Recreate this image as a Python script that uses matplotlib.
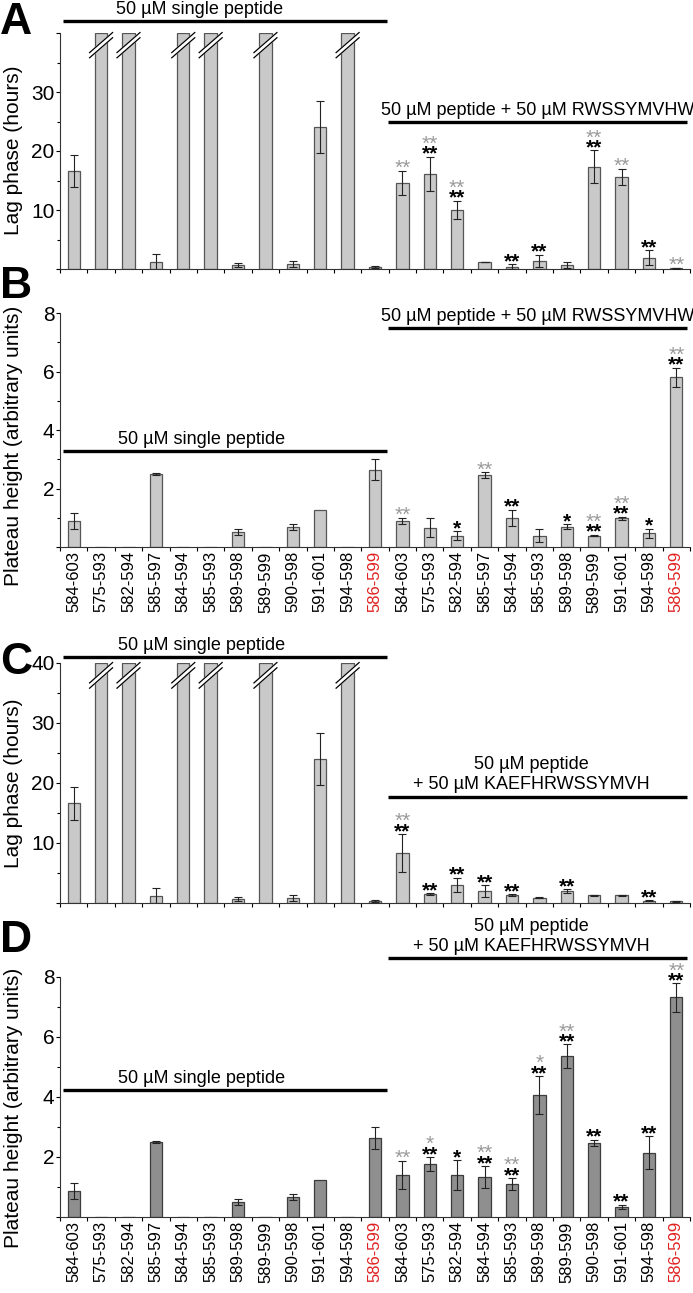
import numpy as np
import matplotlib.pyplot as plt

plt.rcParams['font.family'] = ['Liberation Sans', 'DejaVu Sans']

# peptide names
single_names = ['584-603', '575-593', '582-594', '585-597', '584-594', '585-593',
                '589-598', '589-599', '590-598', '591-601', '594-598', '586-599']
rw_names = ['584-603', '575-593', '582-594', '585-597', '584-594', '585-593',
            '589-598', '589-599', '591-601', '594-598', '586-599']
kaef_names = ['584-603', '575-593', '582-594', '584-594', '585-593', '589-598',
              '589-599', '590-598', '591-601', '594-598', '586-599']

OFF = np.inf  # no aggregation inside the time window (broken bars)

# lag phase (hours), single peptide
lag_single = [16.6, OFF, OFF, 1.2, OFF, OFF, 0.7, OFF, 0.85, 24.0, OFF, 0.35]
lag_single_err = [2.7, 0, 0, 1.3, 0, 0, 0.35, 0, 0.5, 4.4, 0, 0.1]

# A: + RWSSYMVHW
lag_rw = [14.6, 16.1, 10.0, 1.2, 0.4, 1.4, 0.7, 17.3, 15.6, 1.9, 0.1]
lag_rw_err = [2.0, 2.9, 1.6, 0.05, 0.4, 1.0, 0.5, 2.8, 1.3, 1.3, 0.05]
lag_rw_grey = ['**', '**', '**', '', '', '', '', '**', '**', '', '**']
lag_rw_black = ['', '**', '**', '', '**', '**', '', '**', '', '**', '']

# plateau height, single peptide
plat_single = [0.88, 0, 0, 2.5, 0, 0, 0.5, 0, 0.67, 1.25, 0, 2.64]
plat_single_err = [0.27, 0, 0, 0.03, 0, 0, 0.1, 0, 0.1, 0, 0, 0.36]

# B: + RWSSYMVHW
plat_rw = [0.89, 0.66, 0.39, 2.45, 1.0, 0.38, 0.7, 0.39, 0.98, 0.47, 5.8]
plat_rw_err = [0.09, 0.32, 0.15, 0.1, 0.28, 0.22, 0.08, 0.03, 0.05, 0.16, 0.33]
plat_rw_grey = ['**', '', '', '**', '', '', '', '**', '**', '', '**']
plat_rw_black = ['', '', '*', '', '**', '', '*', '**', '**', '*', '**']

# C: + KAEFHRWSSYMVH
lag_kaef = [8.3, 1.5, 3.0, 2.0, 1.3, 0.9, 2.0, 1.3, 1.3, 0.4, 0.3]
lag_kaef_err = [3.2, 0.15, 1.2, 1.0, 0.2, 0.05, 0.3, 0.05, 0.05, 0.1, 0.05]
lag_kaef_grey = ['**', '', '', '', '', '', '', '', '', '', '']
lag_kaef_black = ['**', '**', '**', '**', '**', '', '**', '', '', '**', '']

# D: + KAEFHRWSSYMVH
plat_kaef = [1.4, 1.77, 1.4, 1.33, 1.1, 4.07, 5.37, 2.48, 0.34, 2.14, 7.32]
plat_kaef_err = [0.47, 0.23, 0.5, 0.37, 0.2, 0.63, 0.39, 0.1, 0.07, 0.55, 0.47]
plat_kaef_grey = ['**', '*', '', '**', '**', '*', '**', '', '', '', '**']
plat_kaef_black = ['', '**', '*', '**', '**', '**', '**', '**', '**', '**', '**']

W, H = 693, 1293
fig = plt.figure(figsize=(W / 100, H / 100), dpi=100)

LIGHT, LIGHT_EDGE = '#c9c9c9', '#555555'
DARK, DARK_EDGE = '#8f8f8f', '#3c3c3c'
RED = '#e02020'
GREY_STAR = '#9a9a9a'


def add_ax(top_px, bottom_px):
    return fig.add_axes([60 / W, 1 - bottom_px / H, 630 / W, (bottom_px - top_px) / H])


def bracket(ax, x0, x1, y, lines, xc):
    ax.plot([x0, x1], [y, y], color='k', lw=2.4, clip_on=False, solid_capstyle='butt')
    for k, t in enumerate(lines[::-1]):
        ax.annotate(t, (xc, y), xytext=(0, 8.5 + 14.5 * k), textcoords='offset points',
                    ha='center', va='center', fontsize=13, annotation_clip=False)


def panel(ax, vals, errs, grey, black, names, ymax, major, major_labels, minor,
          face, edge, show_names):
    vals = np.array(vals, dtype=float)
    errs = np.array(errs, dtype=float)
    x = np.arange(len(vals))
    h = np.where(np.isinf(vals), ymax, vals)
    ax.bar(x, h, width=0.45, color=face, edgecolor=edge, linewidth=0.9, zorder=2)
    has = errs > 0
    ax.errorbar(x[has], h[has], yerr=errs[has], fmt='none', ecolor='#222222',
                elinewidth=0.8, capsize=2.6, capthick=0.8, zorder=3)

    # break marks on off-scale bars
    for i in x[np.isinf(vals)]:
        y0, rise, gap = 0.895 * ymax, 0.085 * ymax, 0.022 * ymax
        ax.fill([i - 0.42, i + 0.42, i + 0.42, i - 0.42],
                [y0, y0 + rise, y0 + rise + gap, y0 + gap],
                color='white', zorder=4, clip_on=False)
        for d in (0, gap):
            ax.plot([i - 0.42, i + 0.42], [y0 + d, y0 + rise + d], color='k',
                    lw=0.9, zorder=5, clip_on=False)

    # significance stars for the mixture bars
    n0 = len(vals) - len(grey)
    for j in range(len(grey)):
        i = n0 + j
        top = h[i] + errs[i]
        off = -5
        if black[j]:
            ax.annotate(black[j], (i, top), xytext=(0, off), textcoords='offset points',
                        ha='center', va='bottom', fontsize=15, fontweight='bold',
                        color='k', annotation_clip=False, zorder=6)
            off += 7
        if grey[j]:
            ax.annotate(grey[j], (i, top), xytext=(0, off), textcoords='offset points',
                        ha='center', va='bottom', fontsize=15, color=GREY_STAR,
                        annotation_clip=False, zorder=6)

    ax.set_xlim(-0.5, len(vals) - 0.5)
    ax.set_ylim(0, ymax)
    for s in ('top', 'right'):
        ax.spines[s].set_visible(False)
    for s in ('left', 'bottom'):
        ax.spines[s].set_linewidth(0.8)
        ax.spines[s].set_color('#333333')
    ax.set_yticks(major)
    ax.set_yticklabels(major_labels, fontsize=15)
    ax.set_yticks(minor, minor=True)
    ax.set_xticks(np.arange(len(vals) + 1) - 0.5, minor=True)
    ax.tick_params(axis='y', which='major', length=3, width=0.8, pad=1)
    ax.tick_params(axis='y', which='minor', length=2, width=0.8)
    ax.tick_params(axis='x', which='minor', length=3, width=0.8)
    ax.tick_params(axis='x', which='major', length=0, pad=3)
    ax.set_xticks(x)
    if show_names:
        ax.set_xticklabels(names, rotation=90, fontsize=12)
        for lab in ax.get_xticklabels():
            if lab.get_text() == '586-599':
                lab.set_color(RED)
    else:
        ax.set_xticklabels([])


names_ab = single_names + rw_names
names_cd = single_names + kaef_names

# ---- A ----
axA = add_ax(33, 269)
panel(axA, lag_single + lag_rw, lag_single_err + lag_rw_err, lag_rw_grey, lag_rw_black,
      names_ab, 40, [0, 10, 20, 30, 40], ['', '10', '20', '30', ''], [5, 15, 25, 35],
      LIGHT, LIGHT_EDGE, False)
bracket(axA, -0.39, 11.45, 42.0, ['50 \u00b5M single peptide'], 4.6)
bracket(axA, 11.48, 22.38, 24.9, ['50 \u00b5M peptide + 50 \u00b5M RWSSYMVHW'], 16.95)

# ---- B ----
axB = add_ax(313, 547)
panel(axB, plat_single + plat_rw, plat_single_err + plat_rw_err, plat_rw_grey,
      plat_rw_black, names_ab, 8, [0, 2, 4, 6, 8], ['', '2', '4', '6', '8'], [1, 3, 5, 7],
      LIGHT, LIGHT_EDGE, True)
bracket(axB, -0.39, 11.45, 3.27, ['50 \u00b5M single peptide'], 4.65)
bracket(axB, 11.48, 22.38, 7.49, ['50 \u00b5M peptide + 50 \u00b5M RWSSYMVHW'], 16.95)

# ---- C ----
axC = add_ax(663, 903)
panel(axC, lag_single + lag_kaef, lag_single_err + lag_kaef_err, lag_kaef_grey,
      lag_kaef_black, names_cd, 40, [0, 10, 20, 30, 40], ['', '10', '20', '30', '40'],
      [5, 15, 25, 35], LIGHT, LIGHT_EDGE, False)
bracket(axC, -0.39, 11.45, 41.0, ['50 \u00b5M single peptide'], 4.65)
bracket(axC, 11.48, 22.38, 17.7, ['50 \u00b5M peptide', '+ 50 \u00b5M KAEFHRWSSYMVH'], 16.7)

# ---- D ----
axD = add_ax(977, 1217)
panel(axD, plat_single + plat_kaef, plat_single_err + plat_kaef_err, plat_kaef_grey,
      plat_kaef_black, names_cd, 8, [0, 2, 4, 6, 8], ['', '2', '4', '6', '8'], [1, 3, 5, 7],
      DARK, DARK_EDGE, True)
bracket(axD, -0.39, 11.45, 4.23, ['50 \u00b5M single peptide'], 4.65)
bracket(axD, 11.48, 22.38, 8.63, ['50 \u00b5M peptide', '+ 50 \u00b5M KAEFHRWSSYMVH'], 16.7)

# y labels and panel letters
for lab, yc in [('Lag phase (hours)', 150), ('Plateau height (arbitrary units)', 446),
                ('Lag phase (hours)', 783), ('Plateau height (arbitrary units)', 1108)]:
    fig.text(14 / W, 1 - yc / H, lab, rotation=90, ha='center', va='center',
             fontsize=15)

for letter, yc in [('A', 22), ('B', 287), ('C', 662), ('D', 940)]:
    fig.text(0, 1 - yc / H, letter, ha='left', va='center', fontsize=32,
             fontweight='bold')

fig.savefig('out.png', dpi=100)
